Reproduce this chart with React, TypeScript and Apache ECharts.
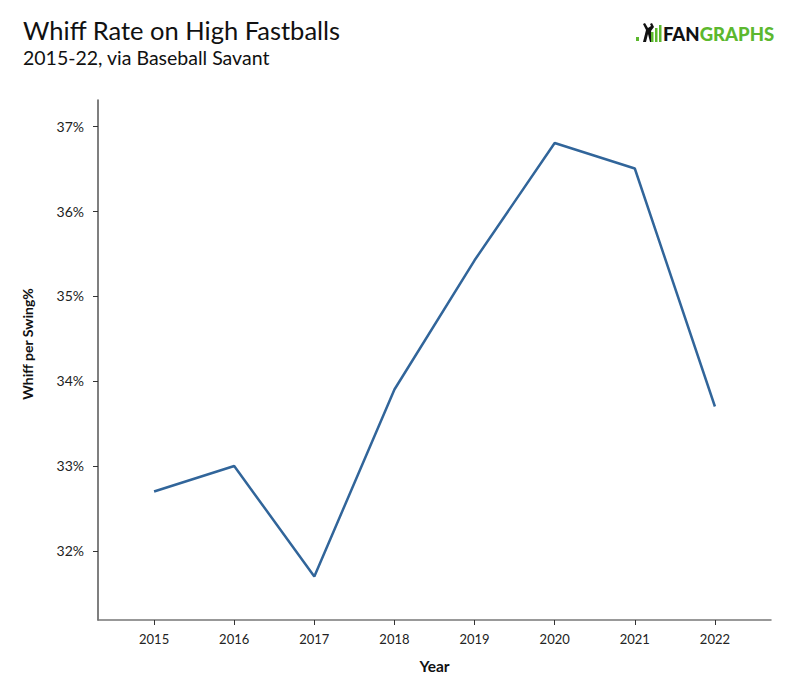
import React, { useEffect, useRef } from "react";
import * as echarts from "echarts";

const years = [2015, 2016, 2017, 2018, 2019, 2020, 2021, 2022];
const whiffRate = [32.7, 33.0, 31.7, 33.9, 35.42, 36.8, 36.5, 33.7];
const yTicks = [32, 33, 34, 35, 36, 37];

export default function App() {
  const ref = useRef<HTMLDivElement>(null);
  useEffect(() => {
    if (!ref.current) return;
    const chart = echarts.init(ref.current, null, { renderer: "svg" });
    const font = "Lato, 'Noto Sans', sans-serif";
    chart.setOption({
      animation: false,
      backgroundColor: "#ffffff",
      textStyle: { fontFamily: font },
      title: {
        text: "Whiff Rate on High Fastballs",
        subtext: "2015-22, via Baseball Savant",
        left: 18,
        top: 12,
        itemGap: 4,
        textStyle: { fontFamily: font, fontSize: 25.5, fontWeight: "normal", color: "#111" },
        subtextStyle: { fontFamily: font, fontSize: 19.5, color: "#111" },
      },
      graphic: [
        { type: "rect", shape: { x: 636, y: 37, width: 3, height: 4 }, style: { fill: "#5cb82e" } },
        {
          type: "polygon",
          shape: { points: [[643, 42], [646, 30], [643, 24], [645, 23], [648, 28], [651, 26], [650, 24], [652, 23], [654, 27], [651, 31], [653, 42], [650, 42], [648, 34], [646, 42]] },
          style: { fill: "#111" },
        },
        { type: "rect", shape: { x: 651, y: 32, width: 2.5, height: 10 }, style: { fill: "#5cb82e" } },
        { type: "rect", shape: { x: 655, y: 28, width: 2.5, height: 14 }, style: { fill: "#5cb82e" } },
        { type: "rect", shape: { x: 659, y: 25, width: 2.5, height: 17 }, style: { fill: "#5cb82e" } },
        {
          type: "text",
          left: 663,
          top: 24,
          style: {
            text: "{a|FAN}{b|GRAPHS}",
            rich: {
              a: { fontFamily: font, fontSize: 18.5, fontWeight: 900, fill: "#111" },
              b: { fontFamily: font, fontSize: 18.5, fontWeight: 900, fill: "#5cb82e" },
            },
          },
        },
        {
          type: "text",
          x: 27,
          y: 344,
          rotation: Math.PI / 2,
          style: {
            text: "Whiff per Swing%",
            fontFamily: font,
            fontSize: 14,
            fontWeight: "bold",
            fill: "#111",
            align: "center",
            verticalAlign: "middle",
          },
        },
      ],
      grid: { left: 98, right: 29, top: 100, bottom: 80, containLabel: false },
      xAxis: {
        type: "value",
        min: 2014.3,
        max: 2022.7,
        name: "Year",
        nameLocation: "middle",
        nameGap: 38,
        nameTextStyle: { fontFamily: font, fontSize: 15.5, fontWeight: "bold", color: "#111" },
        axisLine: { show: true, lineStyle: { color: "#777", width: 1.5 } },
        axisTick: { show: true, length: 5, customValues: years, lineStyle: { color: "#333" } },
        axisLabel: {
          customValues: years,
          formatter: (v: number) => String(v),
          fontFamily: font,
          fontSize: 13,
          color: "#222",
          margin: 12,
        },
        splitLine: { show: false },
      },
      yAxis: {
        type: "value",
        min: 31.188,
        max: 37.306,
        axisLine: { show: true, lineStyle: { color: "#555", width: 1.5 } },
        axisTick: { show: true, length: 5, customValues: yTicks, lineStyle: { color: "#333" } },
        axisLabel: {
          customValues: yTicks,
          formatter: (v: number) => v + "%",
          fontFamily: font,
          fontSize: 14,
          color: "#222",
          margin: 14,
        },
        splitLine: { show: false },
      },
      series: [
        {
          type: "line",
          data: years.map((y, i) => [y, whiffRate[i]]),
          showSymbol: false,
          lineStyle: { color: "#31659a", width: 2.5 },
        },
      ],
    });
    return () => chart.dispose();
  }, []);
  return (
    <div
      ref={ref}
      style={{ position: "absolute", left: 0, top: 0, width: 800, height: 700 }}
    />
  );
}
